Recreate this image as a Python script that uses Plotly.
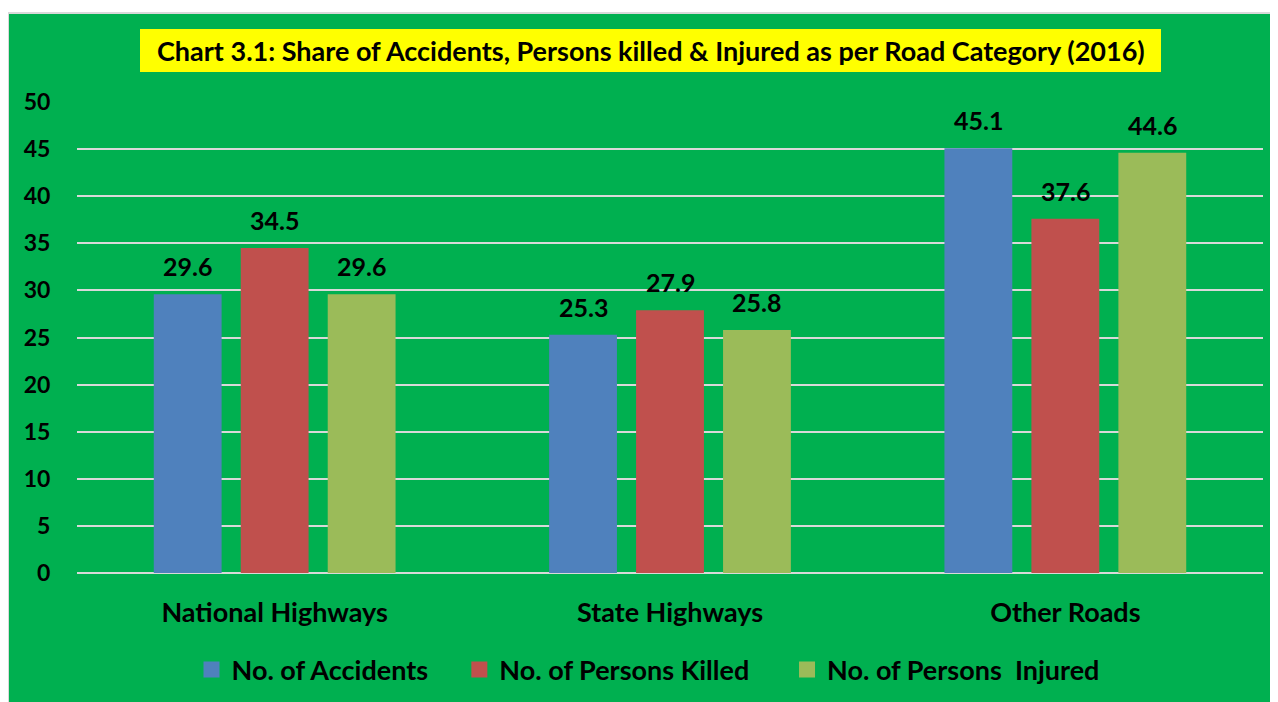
import plotly.graph_objects as go

categories = ["National Highways", "State Highways", "Other Roads"]
series_names = ["No. of Accidents", "No. of Persons Killed", "No. of Persons  Injured"]
accidents = [29.6, 25.3, 45.1]
killed = [34.5, 27.9, 37.6]
injured = [29.6, 25.8, 44.6]
y_ticks = [0, 5, 10, 15, 20, 25, 30, 35, 40, 45, 50]
title_text = "Chart 3.1: Share of Accidents, Persons killed & Injured as per Road Category (2016)"

colors = ["#4F81BD", "#C0504D", "#9BBB59"]
FONT = "Lato"
# figure is placed at (8, 8) in the page by the body margin
W, H = 1270, 694
ML, MR, MT, MB = 69, 15, 94, 129
PW, PH = W - ML - MR, H - MT - MB

def px_x(p):
    return (p - ML) / PW

def px_y(p):
    return (H - MB - p) / PH

fig = go.Figure()
all_vals = [accidents, killed, injured]
for name, vals, c in zip(series_names, all_vals, colors):
    fig.add_trace(go.Bar(x=categories, y=vals, name=name, showlegend=False,
                         marker=dict(color=c, line=dict(width=0))))

# legend entries with larger square swatches
pads = ["\u00a0" * 4, "\u00a0" * 5, ""]
for name, c, p in zip(series_names, colors, pads):
    fig.add_trace(go.Scatter(x=[None], y=[None], mode="markers", name=name + p,
                             marker=dict(symbol="square", size=17, color=c), showlegend=True))

bargap = 0.34
bargroupgap = 0.22
slot_px = PW / len(categories) * (1 - bargap) / 3
annotations = []
for i, vals in enumerate(all_vals):
    for cat, v in zip(categories, vals):
        annotations.append(dict(
            x=cat, y=v, xref="x", yref="y", text=f"{v:.1f}", showarrow=False,
            yanchor="bottom", yshift=11, xshift=(i - 1) * slot_px,
            font=dict(family=FONT, size=25, color="black", weight="bold")))

annotations.append(dict(
    x=px_x(642.5), y=px_y(42.5), xref="paper", yref="paper", text=title_text,
    showarrow=False, xanchor="center", yanchor="middle",
    font=dict(family=FONT, size=27, color="black", weight="bold")))

shapes = [
    dict(type="rect", xref="paper", yref="paper", layer="below",
         x0=px_x(0), x1=px_x(W + 5), y0=px_y(H + 5), y1=px_y(5),
         fillcolor="#00B050", line=dict(color="#D9D9D9", width=2)),
    dict(type="rect", xref="paper", yref="paper", layer="below",
         x0=px_x(132), x1=px_x(1153), y0=px_y(64), y1=px_y(21),
         fillcolor="#FFFF00", line=dict(width=0)),
]

fig.update_layout(
    width=W, height=H,
    margin=dict(l=ML, r=MR, t=MT, b=MB, autoexpand=False),
    paper_bgcolor="white", plot_bgcolor="rgba(0,0,0,0)",
    barmode="group", bargap=bargap, bargroupgap=bargroupgap,
    showlegend=True,
    legend=dict(orientation="h", x=px_x(640), xanchor="center", y=px_y(662), yanchor="middle",
                font=dict(family=FONT, size=27, color="black", weight="bold"),
                itemwidth=30, traceorder="normal", bgcolor="rgba(0,0,0,0)"),
    annotations=annotations, shapes=shapes,
    xaxis=dict(showgrid=False, showline=False, ticks="outside", ticklen=16, tickcolor="rgba(0,0,0,0)",
               tickfont=dict(family=FONT, size=27, color="black", weight="bold")),
    yaxis=dict(range=[0, 50], tickvals=y_ticks, showgrid=True, gridcolor="#D9D9D9", gridwidth=2,
               zeroline=True, zerolinecolor="#D9D9D9", zerolinewidth=2, showline=False,
               ticks="outside", ticklen=21, tickcolor="rgba(0,0,0,0)",
               tickfont=dict(family=FONT, size=23, color="black", weight="bold")),
)

fig.write_html("out.html")
